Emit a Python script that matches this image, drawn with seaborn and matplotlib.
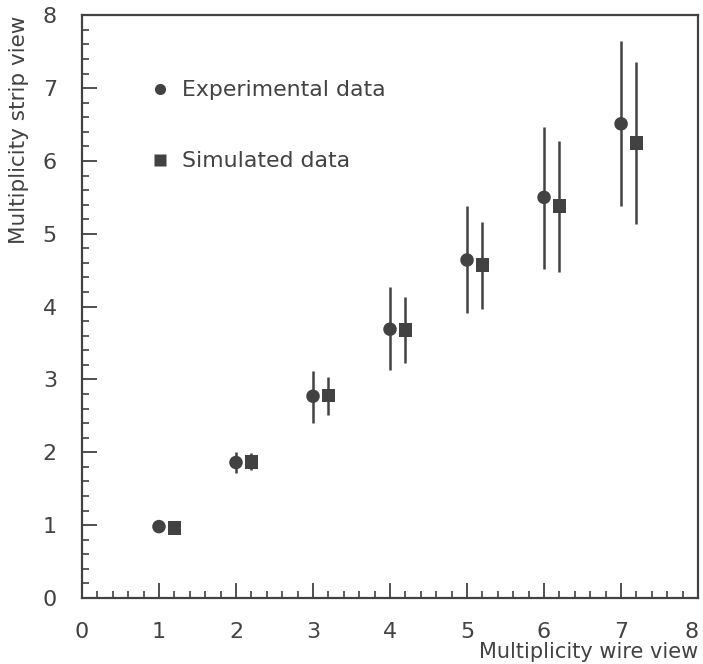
import numpy as np
import pandas as pd
import matplotlib
matplotlib.use("Agg")
import matplotlib.pyplot as plt
from matplotlib.ticker import MultipleLocator
from matplotlib.transforms import ScaledTranslation
import seaborn as sns

sns.set_theme(style="ticks")
plt.rcParams['font.family'] = ['DejaVu Sans']

ink = '#424242'

# wire view multiplicity (bins) and measured strip view multiplicity
wire = [1, 2, 3, 4, 5, 6, 7]
exp_mean = [0.98, 1.86, 2.77, 3.69, 4.64, 5.50, 6.51]
exp_lo = [0.98, 1.71, 2.40, 3.13, 3.91, 4.52, 5.38]
exp_hi = [0.98, 2.01, 3.12, 4.27, 5.38, 6.46, 7.65]

sim_mean = [0.96, 1.87, 2.78, 3.68, 4.57, 5.38, 6.25]
sim_lo = [0.96, 1.76, 2.51, 3.22, 3.97, 4.48, 5.13]
sim_hi = [0.96, 1.99, 3.04, 4.13, 5.16, 6.27, 7.36]
sim_shift = 0.2

axis_ticks = [0, 1, 2, 3, 4, 5, 6, 7, 8]

df = pd.DataFrame({
    'wire': wire + [w + sim_shift for w in wire],
    'strip': exp_mean + sim_mean,
    'lo': exp_lo + sim_lo,
    'hi': exp_hi + sim_hi,
    'kind': ['Experimental data'] * len(wire) + ['Simulated data'] * len(wire),
})

fig = plt.figure(figsize=(7.03, 6.64), dpi=100)
ax = fig.add_axes([0.1166, 0.0994, 0.8764, 0.8776])

for kind, sub in df.groupby('kind'):
    ax.vlines(sub['wire'], sub['lo'], sub['hi'], color=ink, lw=1.8, zorder=2)

sns.scatterplot(data=df, x='wire', y='strip', style='kind', hue='kind',
                markers={'Experimental data': 'o', 'Simulated data': 's'},
                palette={'Experimental data': ink, 'Simulated data': ink},
                s=95, edgecolor='none', ax=ax, zorder=3, legend=True)

ax.set_xlim(0, 8)
ax.set_ylim(0, 8)
ax.set_xticks(axis_ticks)
ax.set_yticks(axis_ticks)
ax.xaxis.set_minor_locator(MultipleLocator(0.2))
ax.yaxis.set_minor_locator(MultipleLocator(0.2))
ax.tick_params(which='major', direction='in', length=11, width=1.3, color=ink,
               labelsize=16, labelcolor=ink)
ax.tick_params(axis='x', which='major', pad=17)
ax.tick_params(axis='y', which='major', pad=18)
ax.tick_params(which='minor', direction='in', length=5, width=1.2, color=ink)
for sp in ax.spines.values():
    sp.set_color(ink)
    sp.set_linewidth(1.6)

ax.set_xlabel('Multiplicity wire view', fontsize=15, color=ink, loc='right', labelpad=0)
ax.set_ylabel('Multiplicity strip view', fontsize=15.5, color=ink, loc='top', labelpad=10)

handles, labels = ax.get_legend_handles_labels()
for h in handles:
    h.set_markersize(8)
ax.legend(handles, labels, loc='upper left', bbox_to_anchor=(0.098, 0.907),
          frameon=False, fontsize=15.8, labelspacing=2.32, handlelength=0.6,
          handletextpad=0.7, borderpad=0, labelcolor=ink)

# nudge the "8" on the x axis so it stays inside the figure
fig.canvas.draw()
for tick in ax.xaxis.get_major_ticks():
    if tick.get_loc() == 8:
        lab = tick.label1
        lab.set_transform(lab.get_transform() + ScaledTranslation(-5 / 72, 0, fig.dpi_scale_trans))

fig.savefig('out.png', dpi=100)
